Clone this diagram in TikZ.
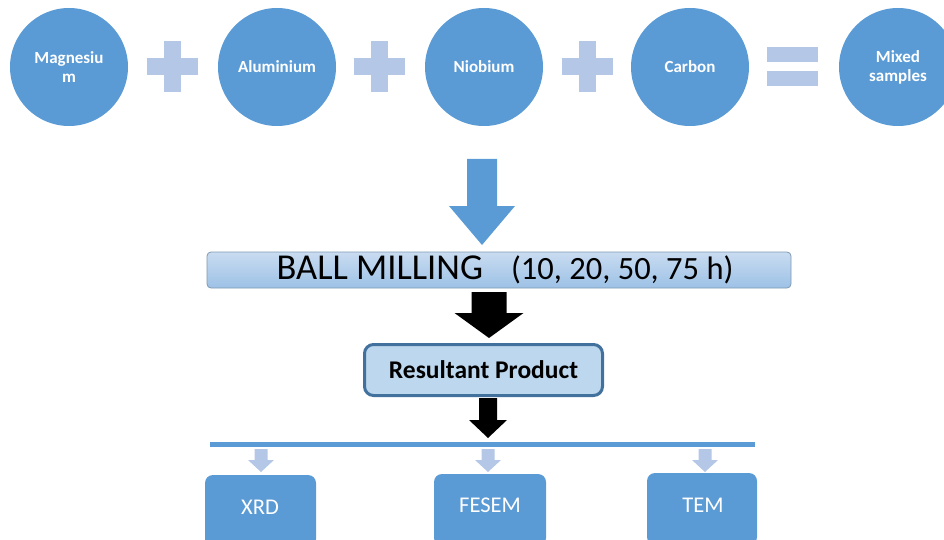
\documentclass[tikz,border=0pt]{standalone}
\usepackage{fontspec}
\setmainfont{Carlito}
\definecolor{cblue}{HTML}{5B9BD5}
\definecolor{lblue}{HTML}{B4C7E7}
\definecolor{dblue}{HTML}{41719C}
\definecolor{pfill}{HTML}{BDD7EE}
\definecolor{gtop}{HTML}{C9DCF1}
\definecolor{gbot}{HTML}{9DC1E6}
\definecolor{gborder}{HTML}{7F98B2}
\tikzset{
  elem/.style={circle, fill=cblue, minimum size=118pt, inner sep=0pt, text=white, font=\bfseries\fontsize{17}{19}\selectfont, align=center},
  sym/.style={fill=lblue},
  testbox/.style={rounded corners=8pt, fill=cblue, text=white},
  testlabel/.style={text=white, font=\fontsize{22.5}{26}\selectfont},
  pics/barrow/.style n args={5}{code={
    \path[fill=#5] (-#1,0) -- (#1,0) -- (#1,#3) -- (#2,#3) -- (0,{#3+#4}) -- (-#2,#3) -- (-#1,#3) -- cycle;}}
}
\begin{document}
\begin{tikzpicture}[x=1pt,y=-1pt]
\useasboundingbox (0,0) rectangle (944,540);
\clip (0,0) rectangle (944,540);
% top row
\node[elem] (mg) at (69,67) {Magnesiu\\m};
\node[elem] (al) at (277,67) {Aluminium};
\node[elem] (nb) at (484,67) {Niobium};
\node[elem] (c)  at (690,67) {Carbon};
\node[elem] (mix) at (898,67) {Mixed\\samples};
% plus signs
\foreach \cx in {172.5,379,587}{
  \fill[sym] (\cx-8.5,41) rectangle (\cx+8.5,92);
  \fill[sym] (\cx-25.5,58) rectangle (\cx+25.5,75);
}
% equals sign
\fill[sym] (767,47) rectangle (818,62);
\fill[sym] (767,71) rectangle (818,86);
% ball milling
\shade[top color=gtop, bottom color=gbot, draw=gborder, line width=0.8pt, rounded corners=4pt] (207,252) rectangle (791,288);
\node (ball) at (505,270) {\fontsize{36.5}{40}\selectfont BALL MILLING\hspace{28pt}{\fontsize{32.5}{36}\selectfont(10, 20, 50, 75 h)}};
\coordinate (bigtop) at (482,159);
\pic at (bigtop) {barrow={15}{33}{47}{39}{cblue}};
% resultant product
\node[draw=dblue, line width=3pt, fill=pfill, rounded corners=9pt, minimum width=238pt, minimum height=51pt, font=\bfseries\fontsize{25.5}{29}\selectfont] (res) at (483.5,370) {Resultant Product};
\coordinate (a1) at (489,292);
\pic at (a1) {barrow={17.5}{34.5}{21}{25}{black}};
\coordinate (a2) at (488,398);
\pic at (a2) {barrow={9}{19}{22}{18}{black}};
% distribution line
\coordinate (lineL) at (210,444);
\coordinate (lineR) at (755,444);
\draw[cblue, line width=5pt] (lineL) -- (lineR);
% test boxes
\node[testbox, minimum width=111pt, minimum height=72pt] (xrd) at (260.5,511) {};
\node[testbox, minimum width=112pt, minimum height=72pt] (fesem) at (490,510) {};
\node[testbox, minimum width=110pt, minimum height=72pt] (tem) at (702,509) {};
\node[testlabel] (xrdt) at (260,507) {XRD};
\node[testlabel] (fesemt) at (490,505) {FESEM};
\node[testlabel] (temt) at (703,505) {TEM};
\foreach \ax in {261,488,705}{
  \pic at (\ax,449) {barrow={6.5}{13}{11}{12}{lblue}};
}
\end{tikzpicture}
\end{document}
